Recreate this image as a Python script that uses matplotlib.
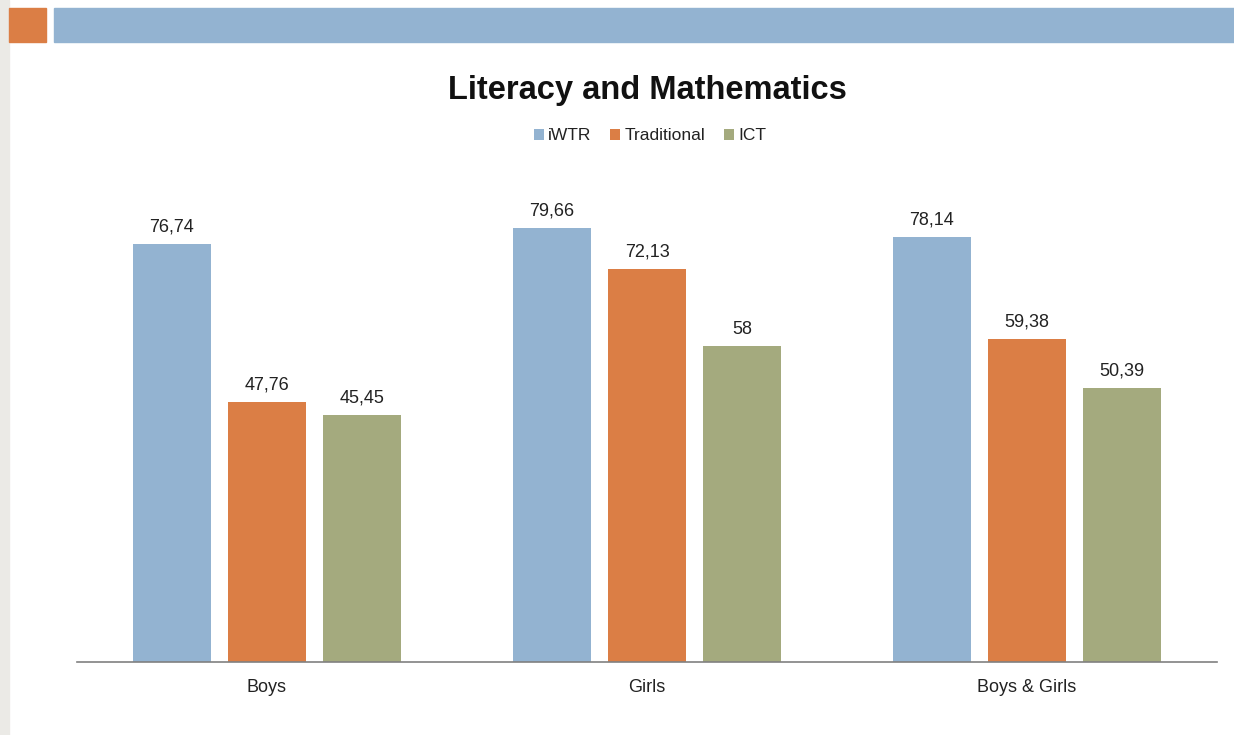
import numpy as np
import matplotlib.pyplot as plt
from matplotlib.patches import Rectangle

plt.rcParams["font.family"] = ["Liberation Sans", "DejaVu Sans"]

groups = ["Boys", "Girls", "Boys & Girls"]
series = ["iWTR", "Traditional", "ICT"]
iwtr = [76.74, 79.66, 78.14]
traditional = [47.76, 72.13, 59.38]
ict = [45.45, 58.0, 50.39]
colors = ["#93B3D1", "#DB7E45", "#A4AA7E"]

fig = plt.figure(figsize=(12.34, 7.35), dpi=100)

# slide decoration
fig.patches.append(Rectangle((0, 0), 9 / 1234, 1, transform=fig.transFigure,
                             color="#EBEAE6", zorder=0))
fig.patches.append(Rectangle((9 / 1234, 1 - 42 / 735), 37 / 1234, 34 / 735,
                             transform=fig.transFigure, color="#DB7E45", zorder=1))
fig.patches.append(Rectangle((54 / 1234, 1 - 42 / 735), 1180 / 1234, 34 / 735,
                             transform=fig.transFigure, color="#93B3D1", zorder=1))

ax = fig.add_axes([77 / 1234, 73 / 735, 1140 / 1234, 490 / 735])
x = np.arange(len(groups))
w = 0.205
step = 0.25
for i, (name, vals) in enumerate(zip(series, [iwtr, traditional, ict])):
    bars = ax.bar(x + (i - 1) * step, vals, w, color=colors[i], label=name)
    for b, v in zip(bars, vals):
        ax.annotate(f"{v:g}".replace(".", ","), (b.get_x() + b.get_width() / 2, v),
                    xytext=(0, 6), textcoords="offset points",
                    ha="center", va="bottom", fontsize=13, color="#222222")

ax.set_xlim(-0.5, 2.5)
ax.set_ylim(0, 90)
ax.set_xticks(x)
ax.set_xticklabels(groups, fontsize=13, color="#222222")
ax.tick_params(axis="x", length=0, pad=12)
ax.set_yticks([])
for s in ["top", "right", "left"]:
    ax.spines[s].set_visible(False)
ax.spines["bottom"].set_color("#808080")
ax.spines["bottom"].set_linewidth(1.2)

fig.text(647 / 1234, 1 - 90 / 735, "Literacy and Mathematics", ha="center",
         va="center", fontsize=23.5, fontweight="bold", color="#111111")
fig.legend(loc="center", bbox_to_anchor=(650 / 1234, 1 - 136 / 735), ncol=3,
           frameon=False, fontsize=12.5, handlelength=0.55, handleheight=0.55,
           handletextpad=0.25, columnspacing=1.1, labelcolor="#222222")

fig.savefig("out.png", dpi=100)
